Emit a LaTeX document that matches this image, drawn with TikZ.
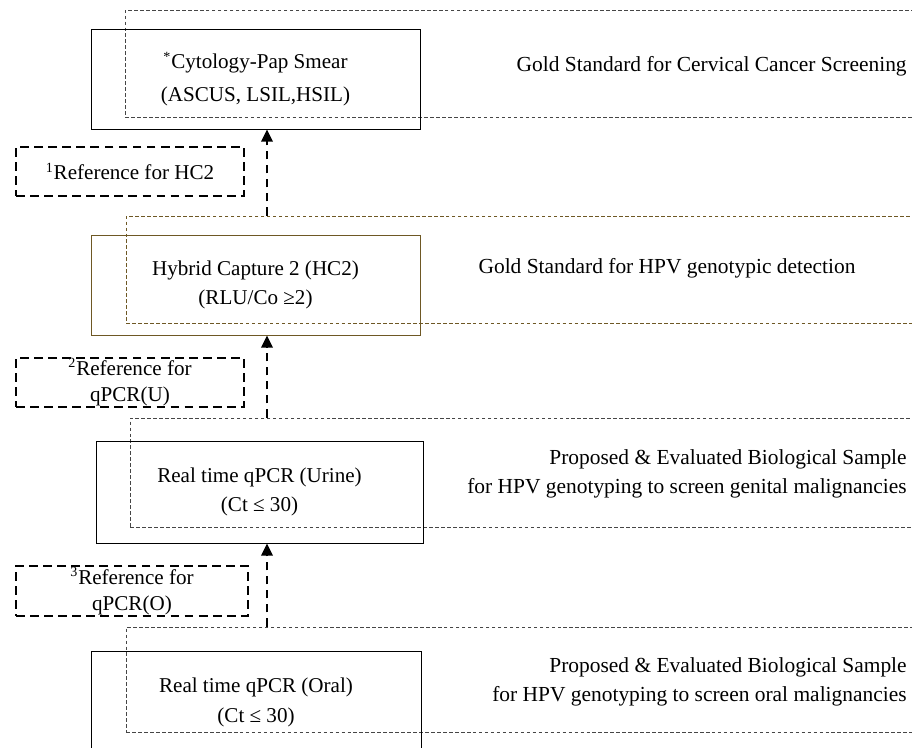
\documentclass[tikz,border=0pt]{standalone}
\usepackage{fontspec}
\setmainfont{Liberation Serif}
\usepackage{xcolor}
\usetikzlibrary{arrows.meta}

\definecolor{hcbrown}{RGB}{110,88,36}
\definecolor{bandgray}{RGB}{70,70,70}

\tikzset{
    stagebox/.style={draw, line width=0.45pt, align=center,
        minimum width=6.58cm, minimum height=2cm,
        font=\fontsize{12}{17}\selectfont},
    band/.style={draw=bandgray, line width=0.5pt,
        dash pattern=on 2pt off 1.4pt,
        anchor=west, minimum width=16.5cm},
    refbox/.style={draw, line width=1.2pt,
        dash pattern=on 5pt off 3pt, align=center, inner sep=0pt,
        minimum width=4.56cm, minimum height=0.98cm,
        font=\fontsize{12}{14.5}\selectfont},
    desc/.style={align=right, anchor=east, inner sep=0pt,
        font=\fontsize{12.2}{16.5}\selectfont},
    refarrow/.style={line width=1.2pt, dash pattern=on 5pt off 3pt,
        -{Triangle[length=7pt,width=6.5pt]}},
}

\begin{document}
\begin{tikzpicture}
        \clip (0,0) rectangle (18.24,14.96);

        % dotted bands
        \node [band, minimum height=2.14cm] (cytoband) at (2.50,13.69){};
        \node [band, draw=hcbrown, minimum height=2.14cm] (hcband) at (2.52,9.57){};
        \node [band, minimum height=2.18cm] (urineband) at (2.60,5.51){};
        \node [band, minimum height=2.10cm] (oralband) at (2.52,1.37){};

        % stages
        \node [stagebox, font=\fontsize{12}{18.5}\selectfont] (cyto) at (5.11,13.38)
            {\textsuperscript{*}Cytology-Pap Smear\\(ASCUS, LSIL,HSIL)};
        \node [stagebox, draw=hcbrown] (hctwo) at (5.11,9.26)
            {Hybrid Capture 2 (HC2)\\(RLU/Co ≥2)};
        \node [stagebox, minimum width=6.54cm, minimum height=2.04cm] (urine) at (5.19,5.12)
            {Real time qPCR (Urine)\\(Ct ≤ 30)};
        \node [stagebox, minimum width=6.6cm, minimum height=2.04cm] (oral) at (5.12,0.92)
            {Real time qPCR (Oral)\\(Ct ≤ 30)};

        % descriptions
        \node [desc] (cytodesc) at (18.14,13.64)
            {Gold Standard for Cervical Cancer Screening};
        \node [desc, anchor=center] (hcdesc) at (13.34,9.6)
            {Gold Standard for HPV genotypic detection};
        \node [desc] (urinedesc) at (18.14,5.49)
            {Proposed \& Evaluated Biological Sample\\for HPV genotyping to screen genital malignancies};
        \node [desc] (oraldesc) at (18.14,1.32)
            {Proposed \& Evaluated Biological Sample\\for HPV genotyping to screen oral malignancies};

        % references
        \node [refbox] (refone) at (2.60,11.53){\textsuperscript{1}Reference for HC2};
        \node [refbox] (reftwo) at (2.60,7.31)
            {\shortstack{\textsuperscript{2}Reference for\\[3.5pt]qPCR(U)}};
        \node [refbox, minimum width=4.64cm, minimum height=1cm] (refthree) at (2.64,3.14)
            {\shortstack{\textsuperscript{3}Reference for\\[3.5pt]qPCR(O)}};

        % arrows
        \coordinate (spine) at (5.34,0);
        \draw[refarrow] (spine |- hcband.north)--(spine |- cyto.south);
        \draw[refarrow] (spine |- urineband.north)--(spine |- hctwo.south);
        \draw[refarrow] (spine |- oralband.north)--(spine |- urine.south);
\end{tikzpicture}
\end{document}
